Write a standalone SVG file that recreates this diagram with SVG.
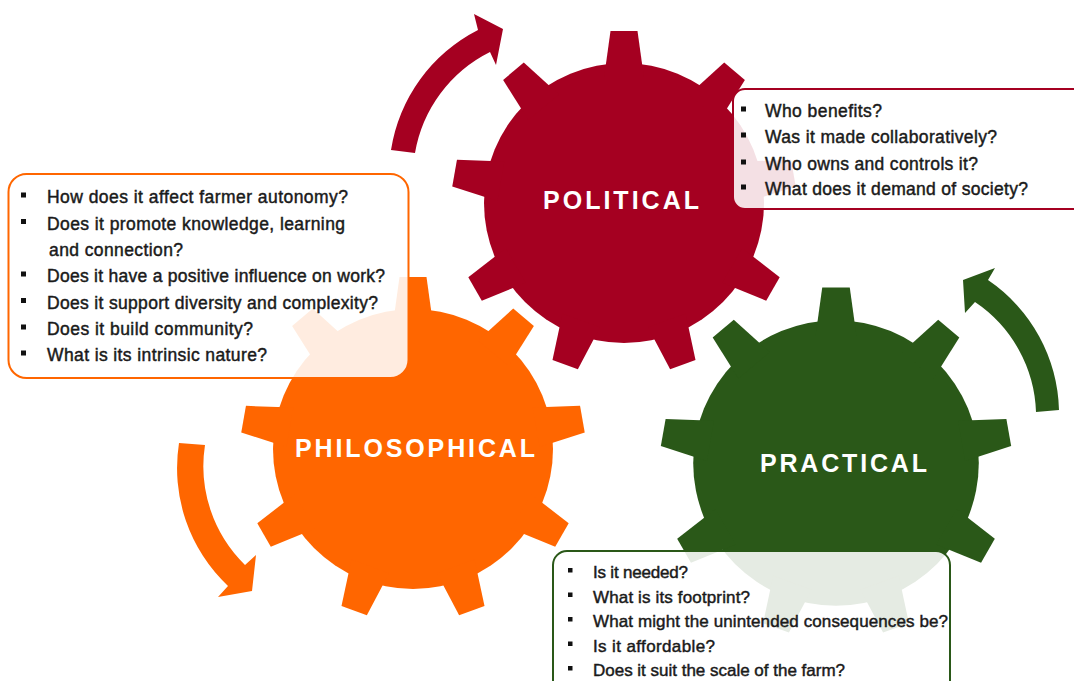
<svg xmlns="http://www.w3.org/2000/svg" xmlns:xlink="http://www.w3.org/1999/xlink" width="1074" height="681" viewBox="0 0 1074 681">
<style>
.q { font-family: "Liberation Sans", Arial, sans-serif; font-size: 17.5px; fill: #1a1a1a; stroke: #1a1a1a; stroke-width: 0.45; }
.qg { font-size: 17px; }
.lbl { font-family: "Liberation Sans", Arial, sans-serif; font-weight: bold; font-size: 25px; fill: #ffffff; }
.box { fill: #ffffff; fill-opacity: 0.88; stroke-width: 2; }
.b { fill: #111111; }
.red { fill: #A50021; }
.org { fill: #FF6600; }
.grn { fill: #2A5818; }
</style>
<defs>
<polygon id="tooth" points="-20,-125 20,-125 13.5,-172 -13.5,-172"/>
<g id="gear">
<circle r="140"/>
<use xlink:href="#tooth"/>
<use xlink:href="#tooth" transform="rotate(40)"/>
<use xlink:href="#tooth" transform="rotate(80)"/>
<use xlink:href="#tooth" transform="rotate(120)"/>
<use xlink:href="#tooth" transform="rotate(160)"/>
<use xlink:href="#tooth" transform="rotate(200)"/>
<use xlink:href="#tooth" transform="rotate(240)"/>
<use xlink:href="#tooth" transform="rotate(280)"/>
<use xlink:href="#tooth" transform="rotate(320)"/>
</g>
</defs>
<rect width="1074" height="681" fill="#ffffff"/>

<g id="connectors">
<path class="red" d="M 391,150 A 163 163 0 0 1 478,30 L 474,14 L 503,29 L 496,65 L 490,52 A 139 139 0 0 0 415,153 Z"/>
<path class="grn" d="M 1059,410 A 162 162 0 0 0 988,280 L 995,268 L 963,280 L 965,313 L 975,302 A 138 138 0 0 1 1036,412 Z"/>
<path class="org" d="M 179,443 A 162 162 0 0 0 228,586 L 218,597 L 252,591 L 256,555 L 245,565 A 138 138 0 0 1 205,445 Z"/>
</g>

<g id="gear-philosophical">
<use xlink:href="#gear" class="org" transform="translate(413,449)"/>
<text class="lbl" x="295" y="457" textLength="240">PHILOSOPHICAL</text>
</g>

<g id="gear-political">
<use xlink:href="#gear" class="red" transform="translate(624,203)"/>
<text class="lbl" x="543" y="209" textLength="156">POLITICAL</text>
</g>

<g id="gear-practical">
<use xlink:href="#gear" class="grn" transform="translate(836,463) scale(1.02)"/>
<text class="lbl" x="760" y="472" textLength="167">PRACTICAL</text>
</g>

<g id="box-political">
<rect class="box" x="733" y="89" width="360" height="120" rx="12" stroke="#A50021"/>
<rect class="b" x="741" y="106.5" width="5" height="5"/>
<rect class="b" x="741" y="132.5" width="5" height="5"/>
<rect class="b" x="741" y="159.5" width="5" height="5"/>
<rect class="b" x="741" y="184.5" width="5" height="5"/>
<text class="q" x="765" y="117" textLength="117">Who benefits?</text>
<text class="q" x="765" y="143" textLength="232">Was it made collaboratively?</text>
<text class="q" x="765" y="170" textLength="213">Who owns and controls it?</text>
<text class="q" x="765" y="195" textLength="263">What does it demand of society?</text>
</g>

<g id="box-philosophical">
<rect class="box" x="8.5" y="174" width="400" height="204" rx="18" stroke="#FF6600"/>
<rect class="b" x="21" y="192.5" width="5" height="5"/>
<rect class="b" x="21" y="219" width="5" height="5"/>
<rect class="b" x="21" y="271.5" width="5" height="5"/>
<rect class="b" x="21" y="298" width="5" height="5"/>
<rect class="b" x="21" y="324.5" width="5" height="5"/>
<rect class="b" x="21" y="350.5" width="5" height="5"/>
<text class="q" x="47" y="203" textLength="301">How does it affect farmer autonomy?</text>
<text class="q" x="47" y="229.5" textLength="298">Does it promote knowledge, learning</text>
<text class="q" x="49" y="256" textLength="134">and connection?</text>
<text class="q" x="47" y="282" textLength="338">Does it have a positive influence on work?</text>
<text class="q" x="47" y="308.5" textLength="331">Does it support diversity and complexity?</text>
<text class="q" x="47" y="335" textLength="206">Does it build community?</text>
<text class="q" x="47" y="361" textLength="220">What is its intrinsic nature?</text>
</g>

<g id="box-practical">
<rect class="box" x="553" y="551" width="397" height="150" rx="14" stroke="#2A5818" stroke-width="2.5"/>
<rect class="b" x="568" y="568" width="4.5" height="4.5"/>
<rect class="b" x="568" y="592.5" width="4.5" height="4.5"/>
<rect class="b" x="568" y="617" width="4.5" height="4.5"/>
<rect class="b" x="568" y="641.5" width="4.5" height="4.5"/>
<rect class="b" x="568" y="666" width="4.5" height="4.5"/>
<text class="q qg" x="593" y="578" textLength="95">Is it needed?</text>
<text class="q qg" x="593" y="602.5" textLength="157">What is its footprint?</text>
<text class="q qg" x="593" y="627" textLength="355">What might the unintended consequences be?</text>
<text class="q qg" x="593" y="651.5" textLength="122">Is it affordable?</text>
<text class="q qg" x="593" y="676" textLength="252">Does it suit the scale of the farm?</text>
</g>
</svg>
